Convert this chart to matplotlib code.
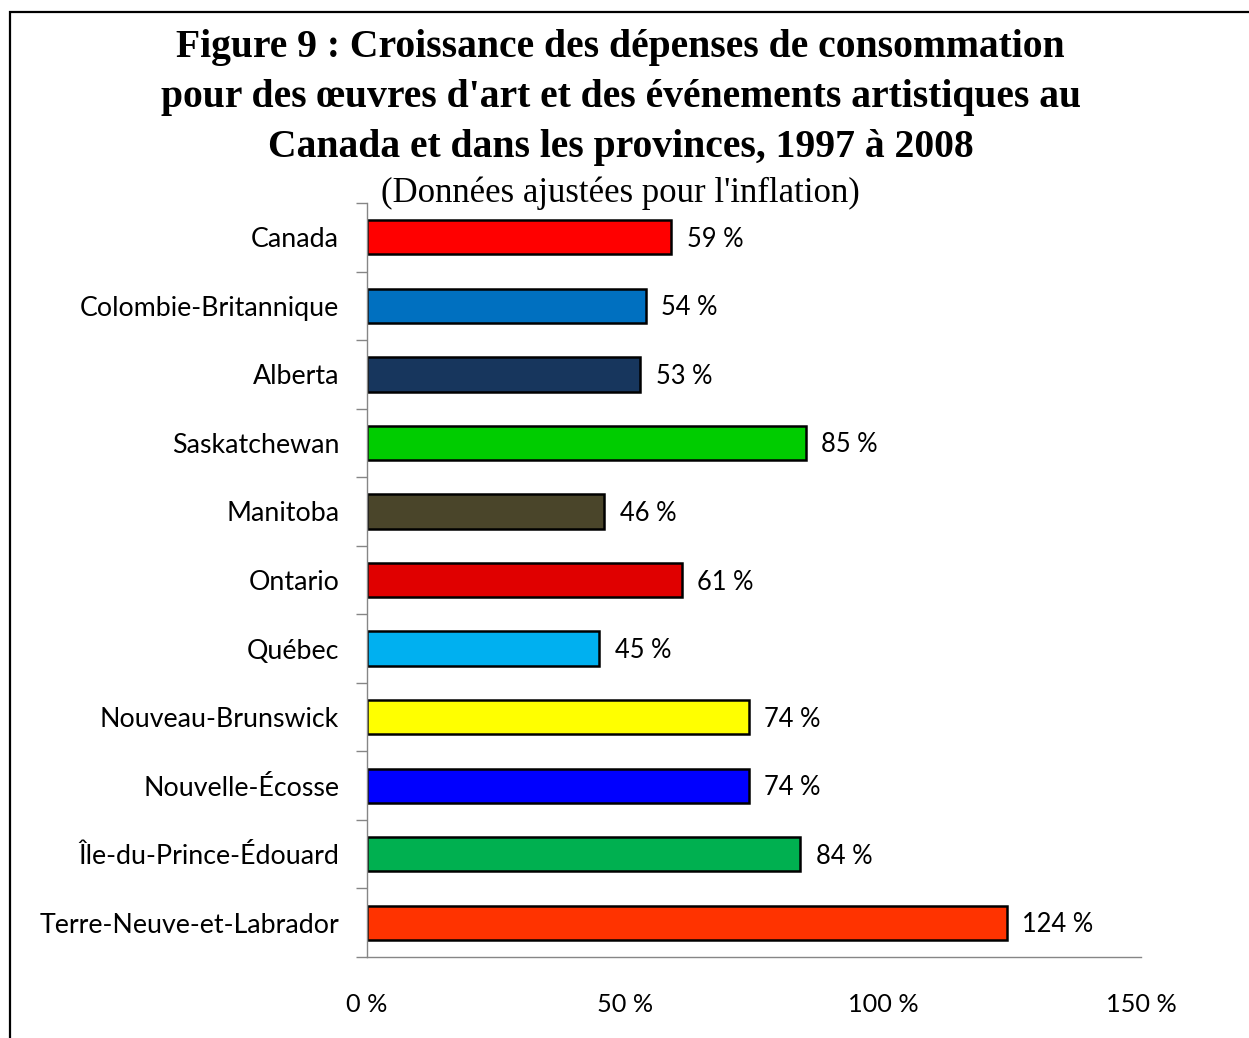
import matplotlib.pyplot as plt
import matplotlib.patches as patches

# data
regions = ["Canada", "Colombie-Britannique", "Alberta", "Saskatchewan", "Manitoba",
           "Ontario", "Québec", "Nouveau-Brunswick", "Nouvelle-Écosse",
           "Île-du-Prince-Édouard", "Terre-Neuve-et-Labrador"]
growth = [59, 54, 53, 85, 46, 61, 45, 74, 74, 84, 124]
colors = ["#FF0000", "#0070C0", "#17365D", "#00CC00", "#4A452A", "#E00000",
          "#00B0F0", "#FFFF00", "#0000FF", "#00B050", "#FF3300"]
xticks = [0, 50, 100, 150]
xtick_labels = ["0 %", "50 %", "100 %", "150 %"]

fig = plt.figure(figsize=(12.49, 10.38), dpi=100)
ax = fig.add_axes([367/1249, 1 - 957/1038, (1141 - 367)/1249, (957 - 203)/1038])

pos = list(range(len(regions)))
ax.barh(pos, growth, height=0.5, color=colors, edgecolor="black", linewidth=1.8)
for p, v in zip(pos, growth):
    ax.text(v + 3, p + 0.03, f"{v} %", va="center", ha="left", fontsize=18.4, family="Lato")

ax.set_xlim(0, 150)
ax.set_ylim(len(regions) - 0.5, -0.5)
ax.set_yticks(pos)
ax.set_yticklabels(regions, fontsize=19.3, family="Lato")
ax.set_yticks([p - 0.5 for p in pos] + [len(regions) - 0.5], minor=True)
ax.tick_params(axis="y", which="major", length=0, pad=20)
ax.tick_params(axis="y", which="minor", length=8, color="#868686", width=1)
ax.set_xticks(xticks)
ax.set_xticklabels(xtick_labels, fontsize=18.2, family="Lato")
ax.tick_params(axis="x", length=0, pad=26)
for s in ["top", "right"]:
    ax.spines[s].set_visible(False)
for s in ["left", "bottom"]:
    ax.spines[s].set_color("#868686")
    ax.spines[s].set_linewidth(1)

title_lines = ["Figure 9 : Croissance des dépenses de consommation",
               "pour des œuvres d'art et des événements artistiques au",
               "Canada et dans les provinces, 1997 à 2008"]
for ypix, line in zip([47, 97, 147], title_lines):
    fig.text(0.497, 1 - ypix/1038, line, ha="center", va="center",
             fontsize=28.5, fontweight="bold", family="Liberation Serif")
fig.text(0.497, 1 - 193/1038, "(Données ajustées pour l'inflation)",
         ha="center", va="center", fontsize=25, family="Liberation Serif")

# frame around the chart
fig.patches.append(patches.Rectangle((10/1249, -0.1), 1.2, 1 - 12/1038 + 0.1,
                                     transform=fig.transFigure, fill=False,
                                     edgecolor="black", linewidth=1.6))

fig.savefig("out.png", dpi=100)
